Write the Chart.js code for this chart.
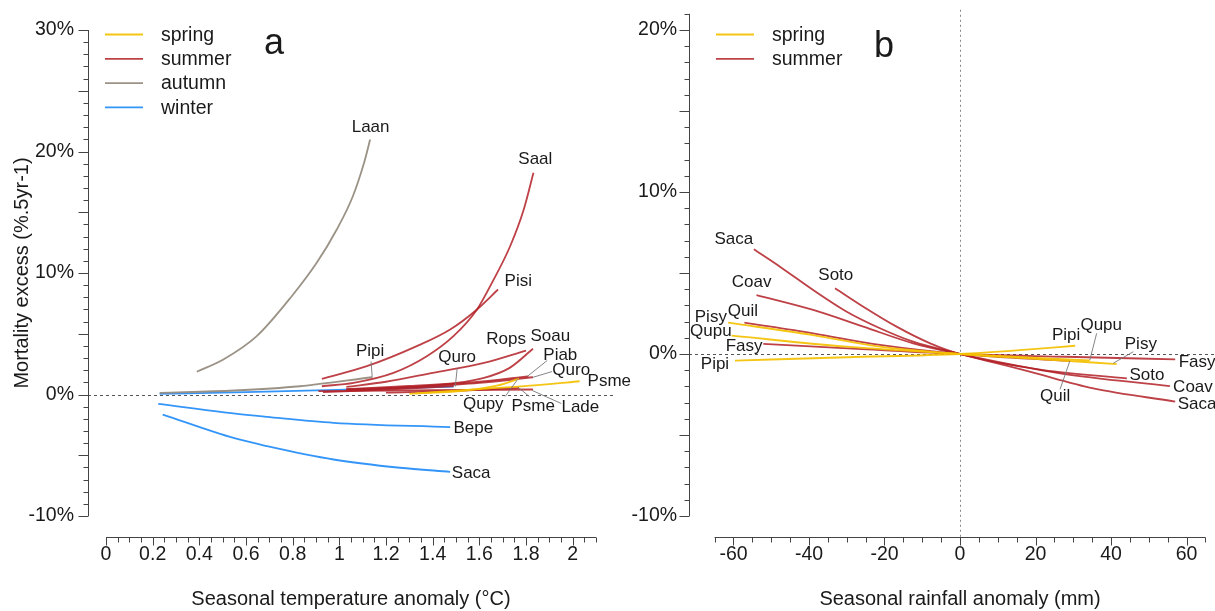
<!DOCTYPE html>
<html><head><meta charset="utf-8">
<script src="https://cdn.jsdelivr.net/npm/chart.js@4/dist/chart.umd.min.js"></script>
<style>
html,body{margin:0;padding:0;background:#fff;}
#wrap{position:relative;width:1215px;height:611px;overflow:hidden;background:#fff;}
canvas{position:absolute;left:0;top:0;}
</style></head><body>
<div id="wrap"><canvas id="ca" width="1215" height="611"></canvas><canvas id="cb" width="1215" height="611"></canvas></div>
<script>
// ---------- tick labels ----------
const tempTicks = [0,0.2,0.4,0.6,0.8,1,1.2,1.4,1.6,1.8,2];
const tempPctTicks = [-10,0,10,20,30];
const rainTicks = [-60,-40,-20,0,20,40,60];
const rainPctTicks = [-10,0,10,20];

// ---------- panel a: temperature anomaly (°C) vs mortality excess (%) ----------
const aSpringPsme = [[1.33,0.1],[1.6,0.45],[1.85,0.78],[2.03,1.09]];
const aSpringQupy = [[1.30,0.05],[1.55,0.35],[1.68,0.75],[1.77,1.3]];
const aSummerSaal = [[0.925,0.68],[1.061,0.96],[1.232,1.78],[1.375,3.15],[1.489,4.8],[1.59,7.0],[1.654,9.19],[1.732,12.2],[1.79,15.2],[1.832,18.25]];
const aSummerPisi = [[0.925,1.29],[1.118,2.33],[1.332,3.98],[1.475,5.35],[1.59,7.0],[1.68,8.64]];
const aSummerRops = [[1.03,0.62],[1.2,1.05],[1.4,1.78],[1.62,2.6],[1.80,3.62]];
const aSummerSoau = [[1.03,0.41],[1.4,0.74],[1.62,1.37],[1.73,2.19],[1.83,3.76]];
const aSummerQuro = [[0.93,0.2],[1.2,0.4],[1.49,0.7]];
const aSummerPiab = [[1.03,0.45],[1.3,0.7],[1.6,1.05],[1.81,1.5]];
const aSummerQuro2 = [[1.03,0.35],[1.3,0.6],[1.6,0.95],[1.83,1.42]];
const aSummerLade = [[0.91,0.27],[1.4,0.35],[1.83,0.41]];
const aSummerPsme = [[1.2,0.15],[1.5,0.3],[1.77,0.55]];
const aAutumnLaan = [[0.389,1.87],[0.503,2.88],[0.646,4.8],[0.796,8.09],[0.903,10.84],[0.989,13.58],[1.058,16.32],[1.106,19.07],[1.132,20.99]];
const aAutumnPipi = [[0.23,0.14],[0.55,0.33],[0.83,0.68],[1.14,1.42]];
const aWinterBepe = [[0.224,-0.77],[0.546,-1.56],[0.69,-1.84],[0.975,-2.33],[1.475,-2.69]];
const aWinterSaca = [[0.243,-1.65],[0.55,-3.6],[0.69,-4.25],[0.975,-5.35],[1.26,-6.03],[1.475,-6.36]];
const aWinterQuro = [[0.23,0.05],[0.6,0.2],[1.03,0.4],[1.49,0.65]];

// ---------- panel b: rainfall anomaly (mm) vs mortality excess (%) ----------
const bSummerSaca = [[-54.6,6.46],[-47.7,5.39],[-38.9,3.95],[-30,2.61],[-21.2,1.59],[-12.4,0.76],[0,0],[8.8,-0.52],[17.7,-1.04],[35.3,-2.12],[57,-2.94]];
const bSummerSoto = [[-33.1,4.06],[-25.6,2.92],[-16.8,1.69],[-7.9,0.66],[0,0],[22.1,-0.99],[44.2,-1.5]];
const bSummerCoav = [[-53.9,3.64],[-38.9,2.72],[-25.6,1.69],[-12.4,0.66],[0,0],[26.5,-1.19],[55.6,-1.98]];
const bSummerQuil = [[-57.1,1.93],[-38.9,1.28],[-21.2,0.56],[0,0],[29.1,-0.43]];
const bSummerFasy = [[-52.1,0.62],[-26,0.3],[0,0],[28,-0.17],[57,-0.33]];
const bSpringPisy = [[-61.4,1.93],[-38.9,1.17],[-21.2,0.45],[0,0],[20,-0.3],[41.5,-0.62]];
const bSpringQupu = [[-60.5,1.13],[-30,0.45],[0,0],[34.4,-0.4]];
const bSpringPipi = [[-59.6,-0.41],[-30,-0.2],[0,0],[15,0.22],[30.5,0.51]];

// ---------- species labels (value coordinates) ----------
const aLabels = [['Laan',1.134,22.02],['Saal',1.84,19.34],['Pisi',1.767,9.3],['Rops',1.715,4.53],['Soau',1.904,4.77],
  ['Pipi',1.132,3.54],['Quro',1.505,3.05],['Piab',1.947,3.21],['Quro',1.994,1.98],['Psme',2.157,1.07],
  ['Qupy',1.617,-0.82],['Psme',1.831,-0.99],['Lade',2.033,-1.07],['Bepe',1.574,-2.8],['Saca',1.565,-6.5]];
const aLeaders = [[1.141,1.4,1.136,2.72],[1.497,0.66,1.505,2.14],[1.805,1.48,1.891,2.8],[1.827,1.4,1.912,1.89],
  [1.827,0.33,1.951,-0.74],[1.767,0.58,1.814,-0.16],[1.767,1.32,1.711,-0.16]];
const bLabels = [['Saca',-59.9,7.1],['Soto',-32.9,4.83],['Coav',-55.2,4.41],['Quil',-57.5,2.65],['Pisy',-66,2.28],
  ['Qupu',-66,1.38],['Fasy',-57.2,0.49],['Pipi',-64.9,-0.62],['Pipi',28.1,1.17],['Qupu',37.4,1.79],['Pisy',47.9,0.62],
  ['Fasy',62.8,-0.49],['Soto',49.5,-1.3],['Coav',61.7,-2.04],['Saca',62.8,-3.09],['Quil',25.2,-2.59]];
const bLeaders = [[34.4,-0.37,36.2,1.28],[40.6,-0.57,45.9,0.14],[29.1,-0.43,26.5,-2.18]];

const seasonColors = {spring:'rgba(244,192,0,0.92)', summer:'rgba(178,32,38,0.85)', autumn:'rgba(150,140,128,0.95)', winter:'rgba(35,140,248,0.92)'};
const FONT = '"Liberation Sans", Arial, Helvetica, sans-serif';

function ds(pts, season){
  return {data: pts.map(([x,y])=>({x,y})), borderColor: seasonColors[season], borderWidth: 1.8,
          pointRadius: 0, fill: false, cubicInterpolationMode: 'monotone', season};
}

const decor = {
  id: 'decor',
  beforeDatasetsDraw(chart, args, o){
    const {ctx, chartArea: ca, scales: {x, y}} = chart;
    ctx.save();
    ctx.strokeStyle = '#555'; ctx.lineWidth = 1; ctx.setLineDash([3,3]);
    const y0 = Math.round(y.getPixelForValue(0)) + 0.5;
    ctx.beginPath(); ctx.moveTo(ca.left - o.yGap, y0); ctx.lineTo(ca.right + o.zeroExtra, y0); ctx.stroke();
    if (o.vZero) {
      ctx.strokeStyle = '#888'; ctx.setLineDash([2,3]);
      const x0 = Math.round(x.getPixelForValue(0)) + 0.5;
      ctx.beginPath(); ctx.moveTo(x0, ca.top - 4); ctx.lineTo(x0, ca.bottom + o.xGap); ctx.stroke();
    }
    ctx.restore();
  },
  afterDraw(chart, args, o){
    const {ctx, chartArea: ca, scales: {x, y}} = chart;
    ctx.save();
    ctx.strokeStyle = '#444'; ctx.lineWidth = 1; ctx.setLineDash([]);
    // y axis
    const ax = Math.round(ca.left - o.yGap) + 0.5;
    ctx.beginPath();
    ctx.moveTo(ax, y.getPixelForValue(y.max)); ctx.lineTo(ax, y.getPixelForValue(y.min));
    for (let v = y.min; v <= y.max + 1e-9; v += 1) {
      const py = Math.round(y.getPixelForValue(v)) + 0.5;
      const len = (Math.abs(v % 5) < 1e-9) ? 10 : 5;
      ctx.moveTo(ax - len, py); ctx.lineTo(ax, py);
    }
    ctx.stroke();
    // x axis
    const ay = Math.round(ca.bottom + o.xGap) + 0.5;
    ctx.beginPath();
    ctx.moveTo(x.getPixelForValue(x.min), ay); ctx.lineTo(x.getPixelForValue(x.max), ay);
    const n = Math.round((x.max - x.min) / o.xMinor);
    for (let k = 0; k <= n; k++) {
      const v = x.min + k * o.xMinor;
      const px = Math.round(x.getPixelForValue(v)) + 0.5;
      const r = Math.abs(v / o.xMajor - Math.round(v / o.xMajor));
      const len = r < 1e-6 ? 8 : 5;
      ctx.moveTo(px, ay); ctx.lineTo(px, ay + len);
    }
    ctx.stroke();
    // leaders
    ctx.strokeStyle = '#777'; ctx.lineWidth = 0.9;
    ctx.beginPath();
    o.leaders.forEach(([x1,y1,x2,y2]) => {
      ctx.moveTo(x.getPixelForValue(x1), y.getPixelForValue(y1));
      ctx.lineTo(x.getPixelForValue(x2), y.getPixelForValue(y2));
    });
    ctx.stroke();
    // labels
    ctx.fillStyle = '#1a1a1a'; ctx.font = '17px ' + FONT; ctx.textAlign = 'center'; ctx.textBaseline = 'middle';
    o.labels.forEach(([t, vx, vy]) => ctx.fillText(t, x.getPixelForValue(vx), y.getPixelForValue(vy)));
    // legend
    ctx.font = '19.5px ' + FONT; ctx.textAlign = 'left';
    o.legend.forEach((s, i) => {
      const ly = o.legendY + i * 24.3;
      ctx.strokeStyle = seasonColors[s]; ctx.lineWidth = 1.8;
      ctx.beginPath(); ctx.moveTo(ca.left + o.legendX, ly); ctx.lineTo(ca.left + o.legendX + 38, ly); ctx.stroke();
      ctx.fillStyle = '#1a1a1a';
      ctx.fillText(s, ca.left + o.legendX + 56, ly + 1);
    });
    // panel letter
    ctx.font = '36px ' + FONT; ctx.textAlign = 'center';
    ctx.fillText(o.letter, ca.left + o.letterX, o.letterY);
    ctx.restore();
  }
};

// tick marks are drawn by the decor plugin; Chart.js tick grid is kept invisible and only used as label spacing
function scaleOpts(min, max, ticks, fmt, space, pad, fit, title, titlePad){
  return {
    type: 'linear', min, max,
    afterBuildTicks: s => { s.ticks = ticks.map(v => ({value: v})); },
    afterFit: fit,
    grid: {display: true, drawOnChartArea: false, drawTicks: true, tickLength: space, color: 'rgba(0,0,0,0)'},
    border: {display: false},
    ticks: {padding: pad, autoSkip: false, maxRotation: 0, color: '#1a1a1a', font: {size: 19.5, family: FONT}, callback: fmt},
    title: title ? {display: true, text: title, color: '#1a1a1a', font: {size: 20, family: FONT}, padding: titlePad} : {display: false}
  };
}

const common = {
  responsive: false, animation: false, devicePixelRatio: 1,
  events: [],
};

new Chart(document.getElementById('ca'), {
  type: 'line',
  data: {datasets: [
    ds(aSpringPsme,'spring'), ds(aSpringQupy,'spring'),
    ds(aSummerSaal,'summer'), ds(aSummerPisi,'summer'), ds(aSummerRops,'summer'), ds(aSummerSoau,'summer'),
    ds(aSummerQuro,'summer'), ds(aSummerPiab,'summer'), ds(aSummerQuro2,'summer'), ds(aSummerLade,'summer'), ds(aSummerPsme,'summer'),
    ds(aAutumnLaan,'autumn'), ds(aAutumnPipi,'autumn'),
    ds(aWinterBepe,'winter'), ds(aWinterSaca,'winter'), ds(aWinterQuro,'winter')
  ]},
  options: Object.assign({}, common, {
    layout: {autoPadding: false, padding: {left: 0, right: 619, top: 30, bottom: 0}},
    scales: {
      x: scaleOpts(0, 2.1, tempTicks, v => String(v), 29, -2, s => { s.height = 95; }, 'Seasonal temperature anomaly (°C)', {top: 0, bottom: 0}),
      y: scaleOpts(-10, 30, tempPctTicks, v => v + '%', 30, 2, s => { s.width = 106; }, 'Mortality excess (%.5yr-1)', {top: 10, bottom: 0})
    },
    plugins: {
      legend: {display: false}, tooltip: {enabled: false},
      decor: {yGap: 18, xGap: 21, zeroExtra: 17, vZero: false, xMinor: 0.05, xMajor: 0.2,
              labels: aLabels, leaders: aLeaders, legend: ['spring','summer','autumn','winter'],
              legendX: -1, legendY: 34.5, letter: 'a', letterX: 168, letterY: 44}
    }
  }),
  plugins: [decor]
});

new Chart(document.getElementById('cb'), {
  type: 'line',
  data: {datasets: [
    ds(bSpringPisy,'spring'), ds(bSpringQupu,'spring'), ds(bSpringPipi,'spring'),
    ds(bSummerSaca,'summer'), ds(bSummerSoto,'summer'), ds(bSummerCoav,'summer'), ds(bSummerQuil,'summer'), ds(bSummerFasy,'summer')
  ]},
  options: Object.assign({}, common, {
    layout: {autoPadding: false, padding: {left: 0, right: 9.6, top: 13.8, bottom: 0}},
    scales: {
      x: scaleOpts(-65, 65, rainTicks, v => String(v), 29, -2, s => { s.height = 95; }, 'Seasonal rainfall anomaly (mm)', {top: 0, bottom: 0}),
      y: scaleOpts(-10, 21, rainPctTicks, v => v + '%', 35.5, 2, s => { s.width = 714.6; }, null, null)
    },
    plugins: {
      legend: {display: false}, tooltip: {enabled: false},
      decor: {yGap: 25.6, xGap: 21, zeroExtra: 20, vZero: true, xMinor: 5, xMajor: 20,
              labels: bLabels, leaders: bLeaders, legend: ['spring','summer'],
              legendX: 1.4, legendY: 34.5, letter: 'b', letterX: 169.4, letterY: 47}
    }
  }),
  plugins: [decor]
});
</script>
</body></html>
